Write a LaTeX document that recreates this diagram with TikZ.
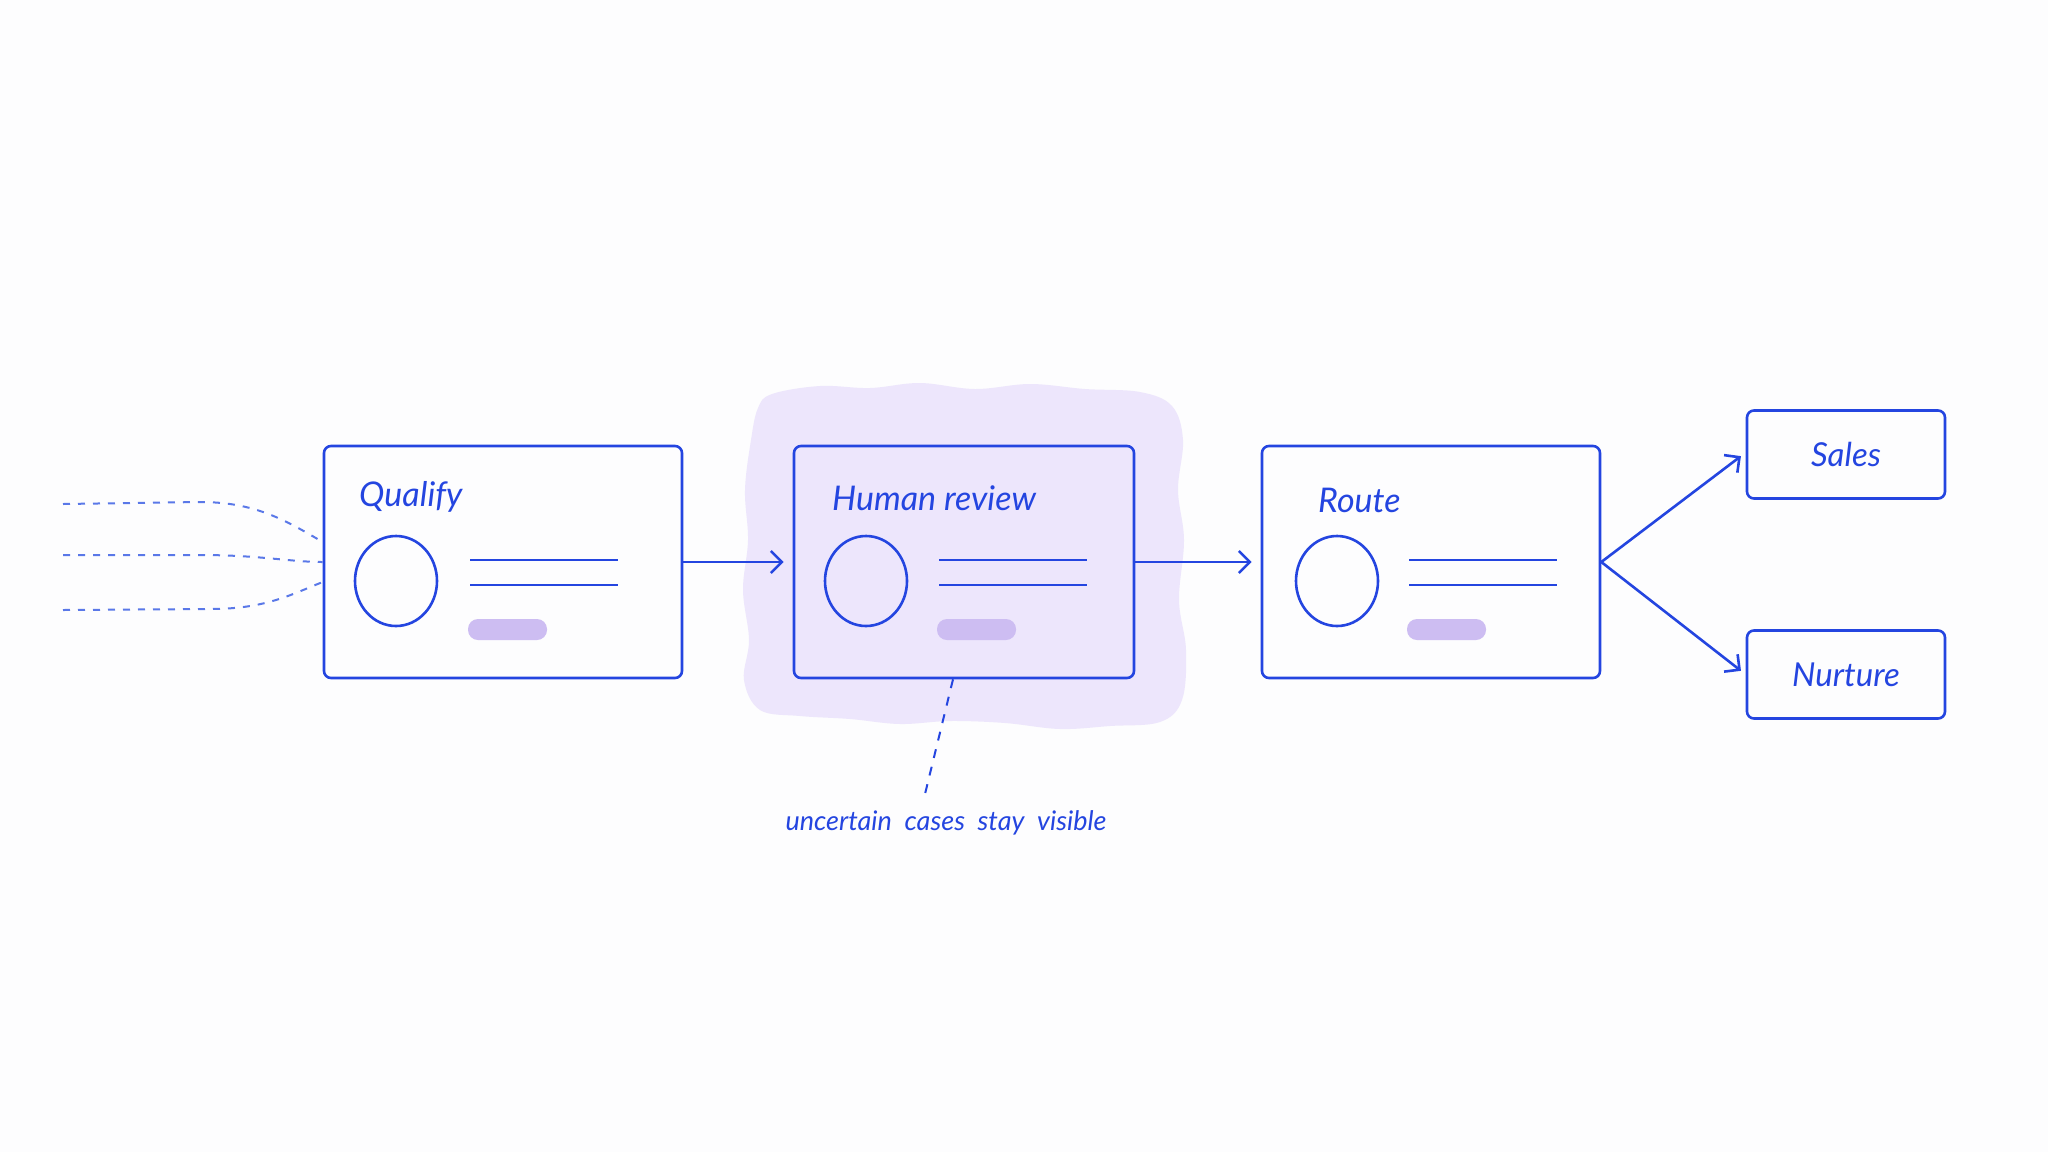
\documentclass[tikz,border=0pt]{standalone}
\usepackage{fontspec}
\setmainfont{Lato}
\usetikzlibrary{arrows.meta}
\definecolor{ink}{HTML}{2445E0}
\definecolor{inklight}{HTML}{5A78E8}
\definecolor{blob}{HTML}{EDE6FC}
\definecolor{pill}{HTML}{CDBDF2}
\definecolor{paper}{HTML}{FDFDFE}
\tikzset{
  card/.style={draw=ink, line width=2.6pt, rounded corners=7pt, minimum width=#1, minimum height=232pt, inner sep=0pt},
  outbox/.style={draw=ink, line width=2.6pt, rounded corners=7pt, minimum width=198pt, minimum height=88pt, inner sep=0pt, font=\fontsize{33}{38}\selectfont\itshape, text=ink},
  title/.style={anchor=west, text=ink, font=\fontsize{34}{40}\selectfont\itshape, inner sep=0pt},
  flow/.style={draw=ink, line width=2.6pt, -{Straight Barb[length=11pt,width=22pt,line width=2.6pt]}},
  glyph/.style={draw=ink, line width=2.6pt},
  pillshape/.style={fill=pill, rounded corners=10pt},
  feed/.style={draw=inklight, line width=2pt, dash pattern=on 7pt off 8pt},
  note/.style={text=ink, font=\fontsize{27}{32}\selectfont\itshape, inner sep=0pt}
}
\begin{document}
\begin{tikzpicture}[x=1pt,y=-1pt]
\fill[paper] (0,0) rectangle (2048,1152);
\useasboundingbox (0,0) rectangle (2048,1152);

% highlight blob
\fill[blob] plot[smooth cycle, tension=0.6] coordinates {
 (772,394) (820,386) (870,388) (920,383) (975,389) (1030,384) (1085,389) (1140,392)
 (1172,406) (1183,440) (1178,490) (1184,540) (1179,600) (1186,650) (1182,700)
 (1160,722) (1110,726) (1060,729) (1005,723) (950,721) (900,724) (850,719)
 (800,716) (760,710) (744,680) (749,640) (743,590) (748,540) (745,490)
 (751,440) (758,408)};

% cards
\node[card=358pt] (q) at (503,562) {};
\node[card=340pt] (h) at (964,562) {};
\node[card=338pt] (r) at (1431,562) {};

\node[outbox] (sales) at (1846,454.5) {Sales};
\node[outbox] (nurt) at (1846,674.5) {Nurture};

% titles
\node[title] (tq) at (359,497) {Qualify};
\node[title] (th) at (832,498) {Human review};
\node[title] (tr) at (1318,500) {Route};

% card contents
\foreach \cx/\lx in {396/470, 866/939, 1337/1409}{
  \draw[glyph] (\cx,581) ellipse [x radius=41pt, y radius=45pt];
  \draw[glyph] (\lx,560) -- ++(148,0);
  \draw[glyph] (\lx,585) -- ++(148,0);
  \fill[pillshape] (\lx-2,619) rectangle ++(79,21);
}

% incoming dashed feeds
\coordinate (f1) at (63,504);
\coordinate (f2) at (63,555);
\coordinate (f3) at (63,610);
\draw[feed] (f1) -- (200,502) .. controls (255,502) and (285,520) .. ([yshift=20pt]q.west);
\draw[feed] (f2) -- (200,555) .. controls (260,555) and (290,562) .. (q.west);
\draw[feed] (f3) -- (210,609) .. controls (265,609) and (290,595) .. ([yshift=-20pt]q.west);

% flow arrows
\draw[flow, shorten >=9pt] (q.east) -- (h.west);
\draw[flow, shorten >=9pt] (h.east) -- (r.west);
\draw[flow, shorten >=6pt] (r.east) -- ([yshift=2pt]sales.west);
\draw[flow, shorten >=6pt] (r.east) -- (nurt.west);

% note
\node[note] (nt) at (946,823) {uncertain\ \ cases\ \ stay\ \ visible};
\coordinate (nc) at (925,794);
\draw[draw=ink, line width=2pt, dash pattern=on 9pt off 9pt] ([xshift=-11pt]h.south) -- (nc);
\end{tikzpicture}
\end{document}
